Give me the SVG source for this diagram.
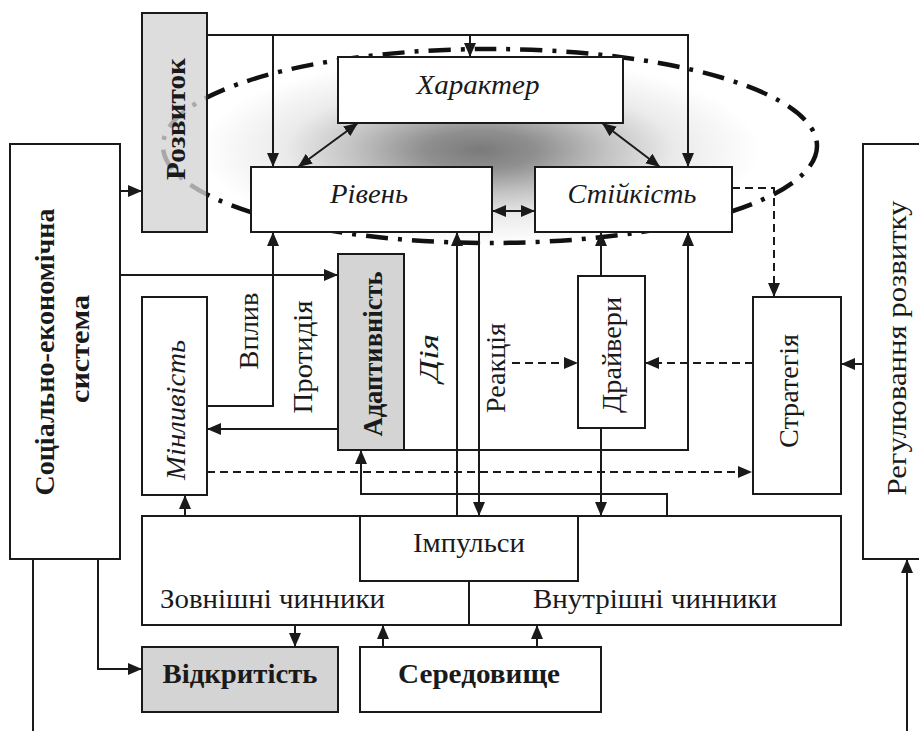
<svg xmlns="http://www.w3.org/2000/svg" width="919" height="731" viewBox="0 0 919 731">
<style>
.box{fill:#fff;stroke:#1a1a1a;stroke-width:2}
.gbox{fill:#d4d4d4;stroke:#1a1a1a;stroke-width:2}
.ln{fill:none;stroke:#1a1a1a;stroke-width:2}
.dl{fill:none;stroke:#1a1a1a;stroke-width:2;stroke-dasharray:8 5}
.ar{marker-end:url(#ah)}
.da{marker-start:url(#ah);marker-end:url(#ah)}
text{font-family:"Liberation Serif","Times New Roman",serif;fill:#1a1a1a;font-size:28px}
.c{text-anchor:middle}
.i{font-style:italic}
.b{font-weight:bold}
</style>
<defs>
<marker id="ah" viewBox="0 0 14 12" refX="14" refY="6" markerWidth="14" markerHeight="12" markerUnits="userSpaceOnUse" orient="auto-start-reverse"><path d="M0,0 L14,6 L0,12 z" fill="#1a1a1a"/></marker>
<radialGradient id="shade" cx="0.5" cy="0.5" r="0.5">
<stop offset="0" stop-color="#7a7a7a"/>
<stop offset="0.2" stop-color="#8f8f8f"/>
<stop offset="0.45" stop-color="#c2c2c2"/>
<stop offset="0.7" stop-color="#ebebeb"/>
<stop offset="1" stop-color="#ffffff"/>
</radialGradient>
</defs>
<rect width="919" height="731" fill="#fff"/>
<g id="contour">
<ellipse cx="480" cy="150" rx="280" ry="95" fill="url(#shade)"/>
<ellipse cx="490" cy="146" rx="327" ry="97" fill="none" stroke="#111" stroke-width="4.5" stroke-dasharray="22 10 4 10"/>
</g>
<g id="connectors">
<path class="ln ar" d="M120,191 H142"/>
<path class="ln ar" d="M207,35 H688 V167"/>
<path class="ln ar" d="M273,35 V167"/>
<path class="ln ar" d="M470,35 V57"/>
<path class="ln da" d="M358,123 L298,167"/>
<path class="ln da" d="M602,123 L660,167"/>
<path class="ln da" d="M492,211 H535"/>
<path class="ln ar" d="M120,275 H338"/>
<path class="ln ar" d="M207,406 H273 V232"/>
<path class="ln ar" d="M338,429 H207"/>
<path class="ln ar" d="M404,450 H688 V232"/>
<path class="dl ar" d="M207,472 H752"/>
<path class="ln ar" d="M667,516 V494 H361 V450"/>
<path class="ln ar" d="M457,516 V232"/>
<path class="ln ar" d="M479,232 V516"/>
<path class="dl ar" d="M732,188 H774 V297"/>
<path class="dl ar" d="M753,363 H645"/>
<path class="dl ar" d="M512,363 H578"/>
<path class="ln ar" d="M601,276 V232"/>
<path class="ln ar" d="M601,428 V516"/>
<path class="ln ar" d="M863,364 H841"/>
<path class="ln ar" d="M185,516 V495"/>
<path class="ln ar" d="M295,625 V647"/>
<path class="ln ar" d="M383,647 V625"/>
<path class="ln ar" d="M537,647 V625"/>
<path class="ln ar" d="M98,559 V669 H142"/>
<path class="ln" d="M33,559 V731"/>
<path class="ln ar" d="M907,731 V559"/>
</g>
<g id="rozvytok">
<rect class="gbox" x="142" y="13" width="65" height="219" style="fill-opacity:0.78"/>
<text class="c b" transform="translate(185,119) rotate(-90)" font-size="29" textLength="122" lengthAdjust="spacingAndGlyphs">Розвиток</text>
</g>
<g id="socio">
<rect class="box" x="10" y="144" width="110" height="415"/>
<text class="c b" transform="translate(54,352) rotate(-90)" font-size="29" textLength="287" lengthAdjust="spacingAndGlyphs">Соціально-економічна</text>
<text class="c b" transform="translate(89,349) rotate(-90)" font-size="29" textLength="108" lengthAdjust="spacingAndGlyphs">система</text>
</g>
<g id="kharakter">
<rect class="box" x="338" y="57" width="285" height="66"/>
<text class="c i" x="478" y="94" font-size="29" textLength="123" lengthAdjust="spacingAndGlyphs">Характер</text>
</g>
<g id="riven">
<rect class="box" x="251" y="167" width="241" height="65"/>
<text class="c i" x="369" y="203" font-size="29" textLength="78" lengthAdjust="spacingAndGlyphs">Рівень</text>
</g>
<g id="stiikist">
<rect class="box" x="535" y="167" width="197" height="65"/>
<text class="c i" x="632" y="203" font-size="29" textLength="129" lengthAdjust="spacingAndGlyphs">Стійкість</text>
</g>
<g id="adaptyvnist">
<rect class="gbox" x="338" y="254" width="66" height="196"/>
<text class="c b" transform="translate(382,354) rotate(-90)" font-size="28" textLength="165" lengthAdjust="spacingAndGlyphs">Адаптивність</text>
</g>
<g id="minlyvist">
<rect class="box" x="142" y="297" width="65" height="198"/>
<text class="c i" transform="translate(185,410) rotate(-90)" font-size="28" textLength="140" lengthAdjust="spacingAndGlyphs">Мінливість</text>
</g>
<g id="labels">
<text class="c" transform="translate(258,331) rotate(-90)" font-size="28" textLength="77" lengthAdjust="spacingAndGlyphs">Вплив</text>
<text class="c" transform="translate(312,357) rotate(-90)" font-size="28" textLength="113" lengthAdjust="spacingAndGlyphs">Протидія</text>
<text class="c i" transform="translate(438,358) rotate(-90)" font-size="27" textLength="48" lengthAdjust="spacingAndGlyphs">Дія</text>
<text class="c" transform="translate(505,368) rotate(-90)" font-size="28" textLength="90" lengthAdjust="spacingAndGlyphs">Реакція</text>
</g>
<g id="draivery">
<rect class="box" x="578" y="276" width="67" height="152"/>
<text class="c" transform="translate(621,355) rotate(-90)" font-size="28" textLength="116" lengthAdjust="spacingAndGlyphs">Драйвери</text>
</g>
<g id="stratehiia">
<rect class="box" x="753" y="297" width="88" height="197"/>
<text class="c" transform="translate(798,391) rotate(-90)" font-size="28" textLength="114" lengthAdjust="spacingAndGlyphs">Стратегія</text>
</g>
<g id="rehuliuvannia">
<rect class="box" x="863" y="144" width="70" height="415"/>
<text class="c" transform="translate(906,348) rotate(-90)" font-size="28" textLength="295" lengthAdjust="spacingAndGlyphs">Регулювання розвитку</text>
</g>
<g id="chynnyky">
<rect class="box" x="142" y="516" width="699" height="109"/>
<path class="ln" d="M469,581 V625"/>
<text x="160" y="608" font-size="29" textLength="225" lengthAdjust="spacingAndGlyphs">Зовнішні чинники</text>
<text x="533" y="608" font-size="29" textLength="244" lengthAdjust="spacingAndGlyphs">Внутрішні чинники</text>
</g>
<g id="impulsy">
<rect class="box" x="360" y="516" width="218" height="65"/>
<text class="c" x="469" y="552" font-size="29" textLength="112" lengthAdjust="spacingAndGlyphs">Імпульси</text>
</g>
<g id="vidkrytist">
<rect class="gbox" x="142" y="647" width="196" height="65"/>
<text class="c b" x="240" y="683" font-size="30" textLength="155" lengthAdjust="spacingAndGlyphs">Відкритість</text>
</g>
<g id="seredovyshche">
<rect class="box" x="360" y="647" width="241" height="65"/>
<text class="c b" x="479" y="683" font-size="30" textLength="162" lengthAdjust="spacingAndGlyphs">Середовище</text>
</g>
</svg>
